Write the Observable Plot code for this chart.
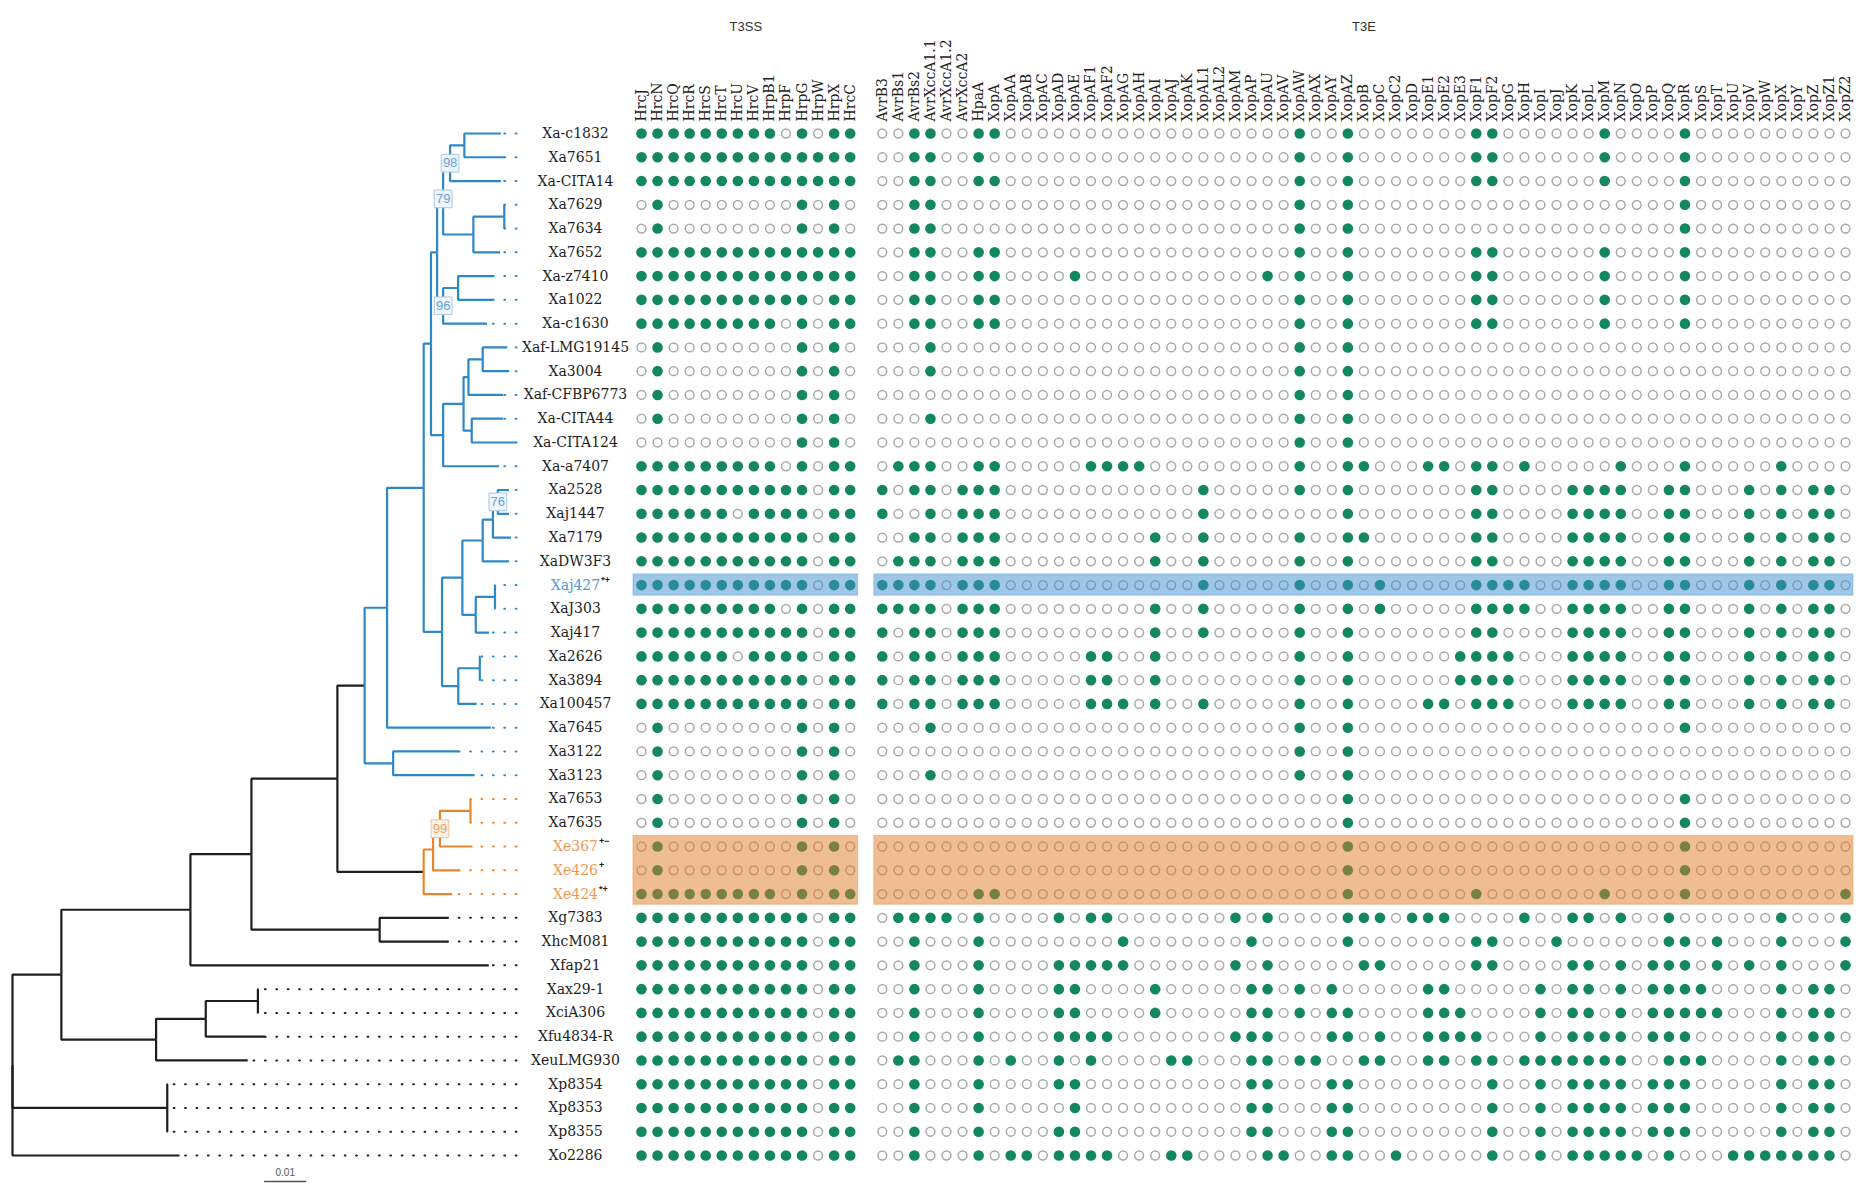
<!DOCTYPE html>
<html><head><meta charset="utf-8">
<script src="https://cdn.jsdelivr.net/npm/d3@7"></script>
<script src="https://cdn.jsdelivr.net/npm/@observablehq/plot@0.6"></script>
<style>
body{margin:0;background:#fff;}
#chart{position:relative;width:1868px;height:1191px;background:#fff;}
#chart svg{position:absolute;top:0;overflow:visible;background:transparent;}
</style></head><body><div id="chart"></div>
<script>
// ---------------- DATA ----------------
const strains = ["Xa-c1832","Xa7651","Xa-CITA14","Xa7629","Xa7634","Xa7652","Xa-z7410","Xa1022","Xa-c1630","Xaf-LMG19145","Xa3004","Xaf-CFBP6773","Xa-CITA44","Xa-CITA124","Xa-a7407","Xa2528","Xaj1447","Xa7179","XaDW3F3","Xaj427","XaJ303","Xaj417","Xa2626","Xa3894","Xa100457","Xa7645","Xa3122","Xa3123","Xa7653","Xa7635","Xe367","Xe426","Xe424","Xg7383","XhcM081","Xfap21","Xax29-1","XciA306","Xfu4834-R","XeuLMG930","Xp8354","Xp8353","Xp8355","Xo2286"];

const t3ssGenes = ["HrcJ","HrcN","HrcQ","HrcR","HrcS","HrcT","HrcU","HrcV","HrpB1","HrpF","HrpG","HrpW","HrpX","HrcC"];

const t3eGenes = ["AvrB3","AvrBs1","AvrBs2","AvrXccA1.1","AvrXccA1.2","AvrXccA2","HpaA","XopA","XopAA","XopAB","XopAC","XopAD","XopAE","XopAF1","XopAF2","XopAG","XopAH","XopAI","XopAJ","XopAK","XopAL1","XopAL2","XopAM","XopAP","XopAU","XopAV","XopAW","XopAX","XopAY","XopAZ","XopB","XopC","XopC2","XopD","XopE1","XopE2","XopE3","XopF1","XopF2","XopG","XopH","XopI","XopJ","XopK","XopL","XopM","XopN","XopO","XopP","XopQ","XopR","XopS","XopT","XopU","XopV","XopW","XopX","XopY","XopZ","XopZ1","XopZ2"];

// T3SS presence (1 = present), one string per strain, in t3ssGenes order
const t3ssPresence = [
"11111111101011","11111111111111","11111111111111","01000000001010","01000000001010",
"11111111111111","11111111111111","11111111111011","11111111101011","01000000001010",
"01000000001010","01000000001010","01000000001010","00000000001010","11111111101011",
"11111111111011","11111101111011","11111111111011","11111111111011","11111111111011",
"11111111101011","11111111111011","11111101111011","11111111111011","11111111111011",
"01000000001010","01000000001010","01000000001010","01000000001010","01000000001010",
"01000000001010","01000000001010","11111111101011","11111111111011","11111111111011",
"11111111111011","11111111111011","11111111111011","11111111111011","11111111111011",
"11111111111011","11111111111011","11111111111011","11111111111011"];

// T3E present: indices into t3eGenes, one list per strain
const t3ePresent = [
[2,3,6,7,26,29,37,38,45,50],
[2,3,6,26,29,37,38,45,50],
[2,3,6,7,26,29,37,38,45,50],
[2,3,26,29,50],
[2,3,26,29,50],
[2,3,6,7,26,29,37,38,45,50],
[2,3,6,7,12,24,26,29,37,38,45,50],
[2,3,6,7,26,29,37,38,45,50],
[2,3,6,7,26,29,37,38,45,50],
[3,26,29],
[3,26,29],
[26,29],
[3,26,29],
[26,29],
[1,2,3,6,7,13,14,15,16,26,29,30,34,35,37,38,40,46,50,56],
[0,2,3,5,6,7,20,26,29,37,38,43,44,45,46,49,50,54,56,58,59],
[0,3,5,6,7,20,29,37,38,43,44,45,46,49,50,54,56,58,59],
[2,3,5,6,7,17,20,26,29,30,37,38,43,44,45,46,49,50,54,56,58,59],
[1,2,3,5,6,7,17,20,26,29,37,38,43,44,45,46,49,50,54,56,58,59],
[0,1,2,3,5,6,7,20,26,29,31,37,38,39,40,43,44,45,46,49,50,54,56,58,59],
[0,1,2,3,5,6,7,17,20,26,29,31,37,38,39,40,43,44,45,46,49,50,54,56,58,59],
[0,2,3,5,6,7,17,20,26,29,37,38,43,44,45,46,49,50,54,56,58,59],
[0,2,3,5,6,7,13,14,17,26,29,36,37,38,39,43,44,45,46,49,50,54,56,58,59],
[0,2,3,5,6,7,13,14,17,26,29,36,37,38,39,43,44,45,46,49,50,54,56,58,59],
[0,2,3,5,6,7,13,14,15,17,20,26,29,34,35,37,38,39,43,44,45,46,49,50,54,56,58,59],
[3,26,29,50],
[26,29],
[3,26,29],
[29,50],
[29,50],
[29,50],
[29,50],
[6,7,29,37,45,50,60],
[1,2,3,4,6,11,13,14,22,24,29,30,31,33,34,35,40,43,44,46,49,56,60],
[2,6,15,23,29,37,38,42,49,50,52,56,60],
[2,6,11,12,13,14,15,22,24,30,31,37,38,43,44,46,48,49,50,52,54,56,60],
[2,6,11,12,17,23,24,26,28,34,35,41,43,44,46,48,49,50,51,56,58,59],
[2,6,11,12,17,23,24,26,28,29,34,35,36,41,43,44,46,48,49,50,51,52,56,58,59],
[2,6,11,12,13,14,22,23,24,28,29,31,34,35,36,37,41,43,44,45,46,48,49,50,56,58,59],
[1,2,6,8,11,13,18,19,23,24,26,27,30,31,34,35,37,38,40,41,42,43,44,45,46,49,50,51,56,58,59],
[2,6,11,12,23,24,28,29,38,41,43,44,45,46,48,49,50,56,58,59],
[2,6,12,23,24,28,29,38,41,43,44,45,46,48,49,50,56,58,59],
[2,6,11,12,23,24,28,29,38,41,43,44,45,46,48,49,50,56,58,59],
[2,6,8,9,11,12,13,14,18,19,24,25,28,29,32,38,41,43,44,45,46,47,49,53,54,55,56,57,58,59]
];

// Phylogeny: [node, parent, branch length (substitutions/site)]
const treeEdges = [
["root",null,0],
["n_in","root",0.01156],
["n_D","n_in",0.03052],
["n_E","n_D",0.01443],
["n_G","n_E",0.02033],
["n_I","n_G",0.00644],
["n_M","n_I",0.00531],
["n_N","n_M",0.00866],
["n_X","n_N",0.00172],
["n_V","n_X",0.00146],
["n_S","n_V",0.00142],
["n_Q","n_S",0.00165],
["n_P","n_Q",0.00337],
["Xa-c1832","n_P",0.00866],
["Xa7651","n_P",0.0096],
["Xa-CITA14","n_Q",0.01203],
["n_R","n_S",0.00715],
["n_T","n_R",0.00731],
["Xa7629","n_T",0.0001],
["Xa7634","n_T",0.0001],
["Xa7652","n_R",0.0063],
["n_W","n_V",0.00142],
["n_U","n_W",0.00354],
["Xa-z7410","n_U",0.00825],
["Xa1022","n_U",0.00825],
["Xa-c1630","n_W",0.01038],
["n_Z","n_X",0.00288],
["n_AA","n_Z",0.00483],
["n_AB","n_AA",0.00116],
["n_AM","n_AB",0.00337],
["Xaf-LMG19145","n_AM",0.00578],
["Xa3004","n_AM",0.00625],
["Xaf-CFBP6773","n_AB",0.00816],
["n_AL","n_AA",0.00193],
["Xa-CITA44","n_AL",0.00738],
["Xa-CITA124","n_AL",0.01059],
["Xa-a7407","n_Z",0.01321],
["n_Y","n_N",0.00434],
["n_AC","n_Y",0.00481],
["n_AE","n_AC",0.00481],
["n_AG","n_AE",0.00241],
["n_AH","n_AG",0.00116],
["Xa2528","n_AH",0.00264],
["Xaj1447","n_AH",0.00264],
["Xa7179","n_AG",0.00427],
["XaDW3F3","n_AE",0.0062],
["n_AF","n_AC",0.00316],
["n_AI","n_AF",0.00455],
["Xaj427","n_AI",0.0001],
["XaJ303","n_AI",0.0001],
["Xaj417","n_AF",0.00314],
["n_AD","n_Y",0.00384],
["n_AJ","n_AD",0.00509],
["Xa2626","n_AJ",0.0001],
["Xa3894","n_AJ",0.0001],
["Xa100457","n_AD",0.00434],
["Xa7645","n_M",0.02453],
["n_AK","n_I",0.00675],
["Xa3122","n_AK",0.0154],
["Xa3123","n_AK",0.01925],
["n_H","n_G",0.0204],
["n_J","n_H",0.00222],
["n_K","n_J",0.00163],
["n_L","n_K",0.00722],
["Xa7653","n_L",0.0001],
["Xa7635","n_L",0.0001],
["Xe367","n_K",0.00771],
["Xe426","n_J",0.00644],
["Xe424","n_H",0.00675],
["n_F","n_E",0.03033],
["Xg7383","n_F",0.01618],
["XhcM081","n_F",0.01618],
["Xfap21","n_D",0.07057],
["n_A","n_in",0.0224],
["n_B","n_A",0.01175],
["n_C","n_B",0.01233],
["Xax29-1","n_C",0.0001],
["XciA306","n_C",0.0001],
["Xfu4834-R","n_B",0.01396],
["XeuLMG930","n_A",0.02167],
["n_Xp","root",0.0366],
["Xp8354","n_Xp",0.0001],
["Xp8353","n_Xp",0.0001],
["Xp8355","n_Xp",0.0001],
["Xo2286","root",0.0395]
];

// Bootstrap support shown on nodes
const bootstrap = [["n_Q",98],["n_S",79],["n_W",96],["n_AH",76],["n_K",99]];

// Highlighted clades / strains
const cladeRoots = [["n_I","blue"],["n_H","orange"]];
const highlightStrains = [["Xaj427","blue"],["Xe367","orange"],["Xe426","orange"],["Xe424","orange"]];
const superscripts = [["Xaj427","*+"],["Xe367","+\u2212"],["Xe426","+"],["Xe424","*+"]];
const groupNames = ["T3SS","T3E"];
const scaleBarLength = 0.01;

// ---------------- STYLE / LAYOUT ----------------
const W = 1868, H = 1191, rowTop = 133, rowBottom = 1155;
const treeWidth = 630;
const pal = {
  blue:   {line:"#2d88c8", label:"#4c9bd6", band:"#3d8fd0", boxFill:"#eef5fb", boxStroke:"#a9c8e2", boxText:"#64a3d6"},
  orange: {line:"#e8862f", label:"#ee9a52", band:"#e07b24", boxFill:"#fdf1e6", boxStroke:"#efc49c", boxText:"#eea362"}
};
const green = "#13875f", openStroke = "#a9a9a9", black = "#1e1e1e";
const serif = "'DejaVu Serif', 'Liberation Serif', serif";
const sans = "'Liberation Sans', Arial, sans-serif";
const rowY = {domain:[0, strains.length - 1], reverse: true, axis:null};

// ---------------- TREE ----------------
const nodes = new Map(treeEdges.map(([id, parent, len]) => [id, {id, parent, len, children: []}]));
for (const n of nodes.values()) if (n.parent) nodes.get(n.parent).children.push(n);
(function place(n, base) {
  n.depth = base + n.len;
  n.children.forEach(c => place(c, n.depth));
  if (!n.children.length) n.y = strains.indexOf(n.id);
  else { const ys = n.children.map(c => c.y); n.y = (Math.min(...ys) + Math.max(...ys)) / 2; }
})(nodes.get("root"), 0);
function cladeOf(n) {
  for (let m = n; m; m = m.parent ? nodes.get(m.parent) : null)
    for (const [r, c] of cladeRoots) if (m.id === r) return c;
  return null;
}
const edges = [...nodes.values()].filter(n => n.parent).map(n => {
  const p = nodes.get(n.parent);
  const c = cladeOf(p);
  return {x1: p.depth, y1: p.y, x2: n.depth, y2: n.y, stroke: c ? pal[c].line : black};
});
const tips = [...nodes.values()].filter(n => !n.children.length);
const maxDepth = d3.max(tips, d => d.depth);
const leaders = tips.map(t => { const c = cladeOf(t); return {x1: maxDepth, x2: t.depth, y: t.y, stroke: c ? pal[c].line : black}; });
const hlMap = new Map(highlightStrains);
const labels = strains.map((s, i) => ({s, i, fill: hlMap.has(s) ? pal[hlMap.get(s)].label : black}));
const boots = bootstrap.map(([id, v]) => { const n = nodes.get(id); const c = cladeOf(n) || "blue"; return {x: n.depth, y: n.y, v, ...pal[c]}; });

const labelFont = 14, labelDx = 59;
const ctx = document.createElement("canvas").getContext("2d");
ctx.font = `${labelFont}px 'DejaVu Serif'`;
const supMarks = superscripts.map(([s, t]) => {
  const w = ctx.measureText(s).width;
  return Plot.text([{y: strains.indexOf(s), t}], {y: "y", text: "t", frameAnchor: "right", dx: labelDx + w / 2 + 1, dy: -5, textAnchor: "start", fontSize: 9, fontWeight: "bold", fill: black, fontFamily: sans});
});

const scaleBarStart = 0.0595, scaleBarRow = strains.length - 1;
const treePlot = Plot.plot({
  width: treeWidth, height: H,
  marginLeft: 12, marginRight: treeWidth - 516, marginTop: rowTop, marginBottom: H - rowBottom,
  x: {domain: [0, maxDepth], axis: null},
  y: rowY,
  color: {type: "identity"},
  style: {background: "transparent", overflow: "visible"},
  marks: [
    Plot.link(leaders, {x1: "x1", x2: "x2", y1: "y", y2: "y", stroke: "stroke", strokeWidth: 2, strokeDasharray: "0.8,10.6", strokeLinecap: "round"}),
    Plot.link(edges, {x1: "x1", y1: "y1", x2: "x2", y2: "y2", stroke: "stroke", strokeWidth: 2.2, curve: "step-before"}),
    Plot.dot(boots, {x: "x", y: "y", symbol: "square", r: 10, fill: "boxFill", stroke: "boxStroke", strokeWidth: 1}),
    Plot.text(boots, {x: "x", y: "y", text: "v", fill: "boxText", fontSize: 13, fontFamily: sans}),
    Plot.text(labels, {y: "i", text: "s", fill: "fill", frameAnchor: "right", dx: labelDx, textAnchor: "middle", fontSize: labelFont, fontFamily: serif}),
    ...supMarks,
    Plot.link([scaleBarLength], {x1: () => scaleBarStart, x2: d => scaleBarStart + d, y1: () => scaleBarRow + 1.09, y2: () => scaleBarRow + 1.09, stroke: "#555", strokeWidth: 1.5}),
    Plot.text([scaleBarLength], {x: d => scaleBarStart + d / 2, y: () => scaleBarRow + 0.72, text: d => String(d), fontSize: 10, fill: "#555", fontFamily: sans})
  ]
});

// ---------------- MATRIX ----------------
const gap = 1, t3eOffset = t3ssGenes.length + gap;
const genes = [
  ...t3ssGenes.map((g, j) => ({g, x: j})),
  ...t3eGenes.map((g, k) => ({g, x: t3eOffset + k}))
];
const cells = [];
strains.forEach((s, i) => {
  t3ssGenes.forEach((g, j) => cells.push({x: j, y: i, p: t3ssPresence[i][j] === "1"}));
  t3eGenes.forEach((g, k) => cells.push({x: t3eOffset + k, y: i, p: t3ePresent[i].includes(k)}));
});
const groups = [
  {name: groupNames[0], a: 0, b: t3ssGenes.length - 1},
  {name: groupNames[1], a: t3eOffset, b: t3eOffset + t3eGenes.length - 1}
];
// contiguous highlighted row blocks
const blocks = [];
highlightStrains.forEach(([s, c]) => {
  const i = strains.indexOf(s);
  const last = blocks[blocks.length - 1];
  if (last && last.c === c && last.i2 === i - 1) last.i2 = i; else blocks.push({c, i1: i, i2: i});
});
const bands = blocks.flatMap(b => groups.map(g => ({x1: g.a - 0.5, x2: g.b + 0.5, y1: b.i1 - 0.45, y2: b.i2 + 0.45, fill: pal[b.c].band})));

const mLeft = 630;
const matrixPlot = Plot.plot({
  width: W - mLeft, height: H,
  marginLeft: 641 - mLeft, marginRight: W - 1845, marginTop: rowTop, marginBottom: H - rowBottom,
  x: {domain: [0, t3eOffset + t3eGenes.length - 1], axis: null},
  y: rowY,
  color: {type: "identity"},
  style: {background: "transparent", overflow: "visible"},
  marks: [
    Plot.dot(cells.filter(d => !d.p), {x: "x", y: "y", r: 4.4, fill: "white", stroke: openStroke, strokeWidth: 1.5}),
    Plot.dot(cells.filter(d => d.p), {x: "x", y: "y", r: 5.3, fill: green}),
    Plot.rect(bands, {x1: "x1", x2: "x2", y1: "y1", y2: "y2", fill: "fill", fillOpacity: 0.5, stroke: "fill", strokeOpacity: 0.35, strokeWidth: 1}),
    Plot.text(genes, {x: "x", text: "g", frameAnchor: "top", rotate: -90, textAnchor: "start", lineAnchor: "middle", dy: -12, fontSize: 14, fontFamily: serif, fill: "#222"}),
    Plot.text(groups, {x: d => (d.a + d.b) / 2, text: "name", frameAnchor: "top", dy: 21 - rowTop, fontSize: 13, fontFamily: sans, fill: "#333"})
  ]
});

const chart = document.getElementById("chart");
treePlot.style.left = "0px";
matrixPlot.style.left = mLeft + "px";
chart.append(treePlot, matrixPlot);
</script></body></html>
